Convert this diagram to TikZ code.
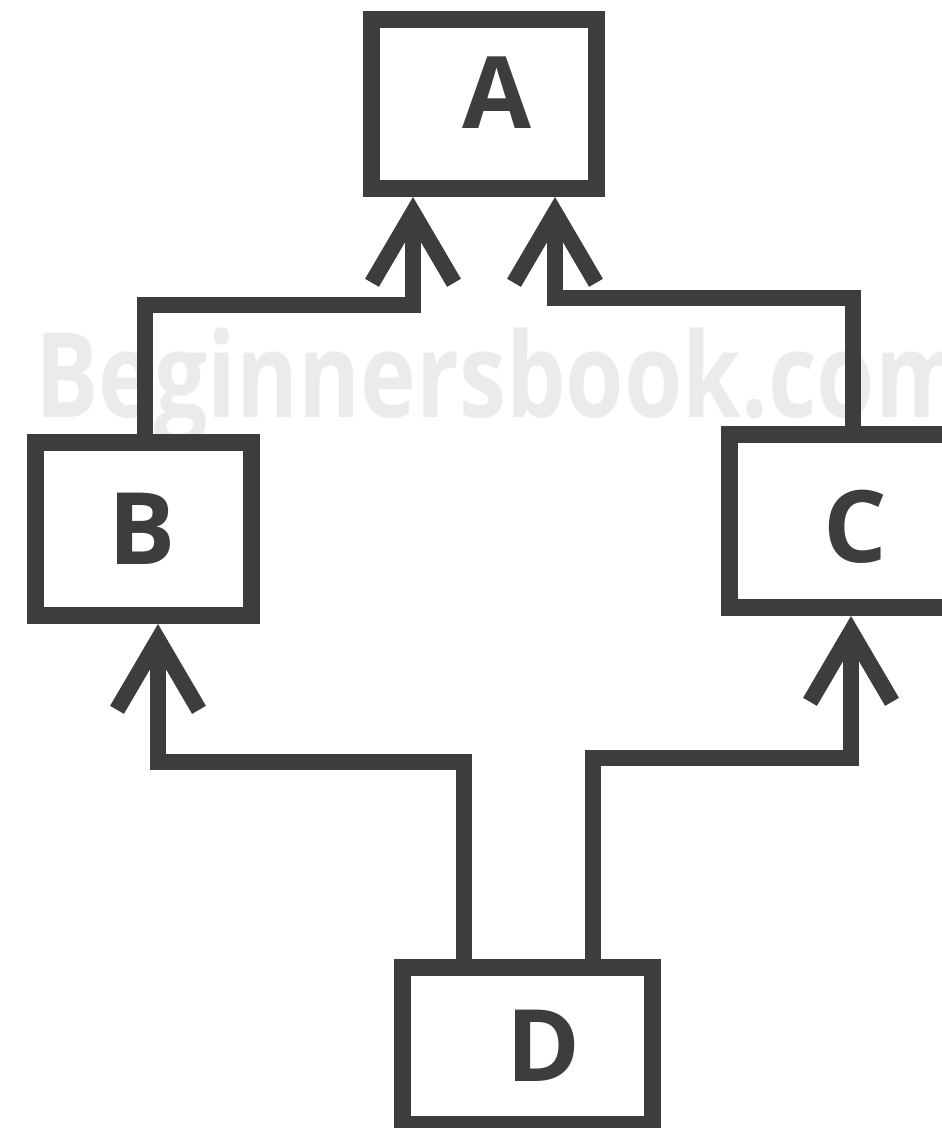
\documentclass[tikz,border=0pt]{standalone}
\usepackage{fontspec}
\setmainfont{Open Sans}
\usetikzlibrary{arrows.meta,calc}
\definecolor{ink}{HTML}{3D3D3D}
\definecolor{wmark}{HTML}{EBEBEB}
\begin{document}
\begin{tikzpicture}[x=1pt,y=-1pt,
  box/.style={draw=ink,line width=17pt,rectangle,inner sep=0pt},
  letter/.style={text=ink,inner sep=0pt,font=\fontsize{100}{120}\selectfont\bfseries},
  conn/.style={draw=ink,line width=16pt,line join=miter,
    -{Straight Barb[length=70pt,width=82pt,line width=16pt,sharp]}},
]
\useasboundingbox (0,0) rectangle (942,1128);

% watermark behind everything
\node[text=wmark,inner sep=0pt,anchor=base west,xscale=0.8,
  font=\fontsize{118}{130}\selectfont\bfseries] (wm) at (35,417) {Beginnersbook.com};

% boxes
\node[box,minimum width=225pt,minimum height=169pt] (A) at (484,104) {};
\node[box,minimum width=216pt,minimum height=173pt] (B) at (143.5,529) {};
\node[box,minimum width=251pt,minimum height=173pt] (C) at (855,521) {};
\node[box,minimum width=250pt,minimum height=157pt] (D) at (527.5,1046) {};

% labels
\node[letter] (tA) at (497,93) {A};
\node[letter] (tB) at (142,529) {B};
\node[letter] (tC) at (855,527) {C};
\node[letter] (tD) at (544,1046) {D};

% elbow points
\coordinate (jBA) at (413,305);
\coordinate (jCA) at (555,298);
\coordinate (jDB) at (158,762);
\coordinate (jDC) at (851,758);

% connectors
\draw[conn] ([xshift=1.5pt]B.north) |- (jBA) -- (jBA |- A.south);
\draw[conn] ([xshift=-2pt]C.north) |- (jCA) -- (jCA |- A.south);
\draw[conn] ([xshift=-63.5pt]D.north) |- (jDB) -- (jDB |- B.south);
\draw[conn] ([xshift=65.5pt]D.north) |- (jDC) -- (jDC |- C.south);
\end{tikzpicture}
\end{document}
